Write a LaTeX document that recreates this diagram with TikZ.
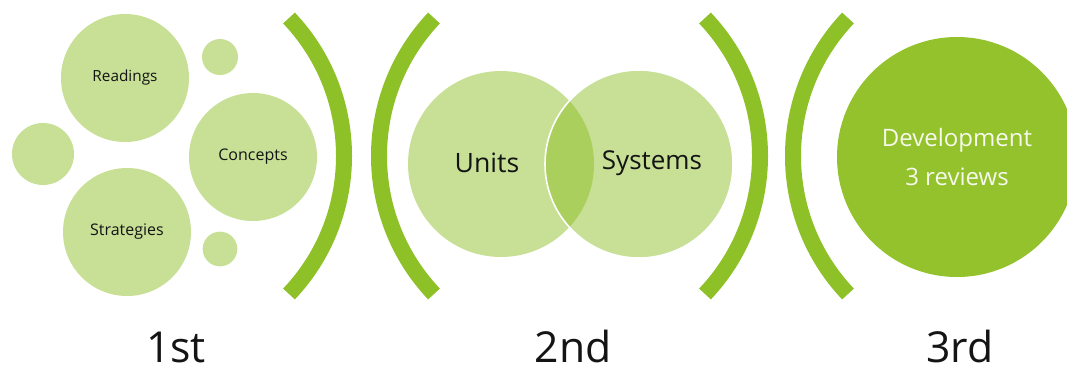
\documentclass[tikz,border=0pt]{standalone}
\usepackage{fontspec}
\setmainfont{Open Sans}
\definecolor{leafpale}{RGB}{199,224,150}
\definecolor{leafmid}{RGB}{170,207,92}
\definecolor{leafdeep}{RGB}{142,192,40}
\definecolor{leafdisk}{RGB}{147,194,44}
\definecolor{inkdark}{RGB}{20,20,20}
\definecolor{inklight}{RGB}{246,249,236}
\begin{document}
\begin{tikzpicture}[x=0.75pt,y=-0.75pt,
  bubble/.style={circle,fill=leafpale,inner sep=0pt,text=inkdark},
  curve/.style={draw=leafdeep,line width=12pt},
  stage/.style={anchor=base,text=inkdark,text depth=0pt,inner sep=0pt,
                font=\fontsize{32}{38}\selectfont}]
\useasboundingbox (0,0) rectangle (1067,372);
\clip (0,0) rectangle (1067,372);

% first group: cluster of idea bubbles
\node[bubble,minimum size=96pt,font=\fontsize{11.5}{14}\selectfont] (readings) at (125,78) {Readings};
\node[bubble,minimum size=96pt,font=\fontsize{12}{14}\selectfont] (concepts) at (253,157) {Concepts};
\node[bubble,minimum size=96pt,font=\fontsize{12}{14}\selectfont] (strategies) at (127,232) {Strategies};
\node[bubble,minimum size=46.5pt] (dotleft) at (43,154) {};
\node[bubble,minimum size=27pt] (dottop) at (220,57) {};
\node[bubble,minimum size=26pt] (dotbottom) at (220,249) {};

% second group: overlapping pair
\node[bubble,minimum size=139.5pt] (units) at (501,164) {};
\node[bubble,minimum size=141pt] (systems) at (639,164) {};
\begin{scope}
  \clip (501,164) circle[radius=69.75pt];
  \fill[leafmid] (639,164) circle[radius=70.5pt];
\end{scope}
\draw[white,line width=1.2pt] (639,164) circle[radius=70.5pt];
\node[text=inkdark,font=\fontsize{20}{24}\selectfont] (unitslabel) at (487,163) {Units};
\node[text=inkdark,font=\fontsize{19.5}{24}\selectfont] (systemslabel) at (652,163) {Systems};

% third group: single disk
\node[circle,fill=leafdisk,minimum size=180pt,inner sep=0pt,text=inklight,
      align=center,font=\fontsize{18}{29}\selectfont] (development) at (957,157)
      {Development\\3 reviews};

% bracket arcs between the groups
\coordinate (b1) at (289,294);
\coordinate (b2) at (434,18);
\coordinate (b3) at (705,294);
\coordinate (b4) at (848,18);
\draw[curve] (b1) arc[start angle=-43.47,end angle=43.47,radius=150.45pt];
\draw[curve] (b2) arc[start angle=136.53,end angle=223.47,radius=150.45pt];
\draw[curve] (b3) arc[start angle=-43.47,end angle=43.47,radius=150.45pt];
\draw[curve] (b4) arc[start angle=136.53,end angle=223.47,radius=150.45pt];

% stage captions
\node[stage] (first) at (176,362) {1st};
\node[stage] (second) at (573,362) {2nd};
\node[stage] (third) at (960,362) {3rd};
\end{tikzpicture}
\end{document}
